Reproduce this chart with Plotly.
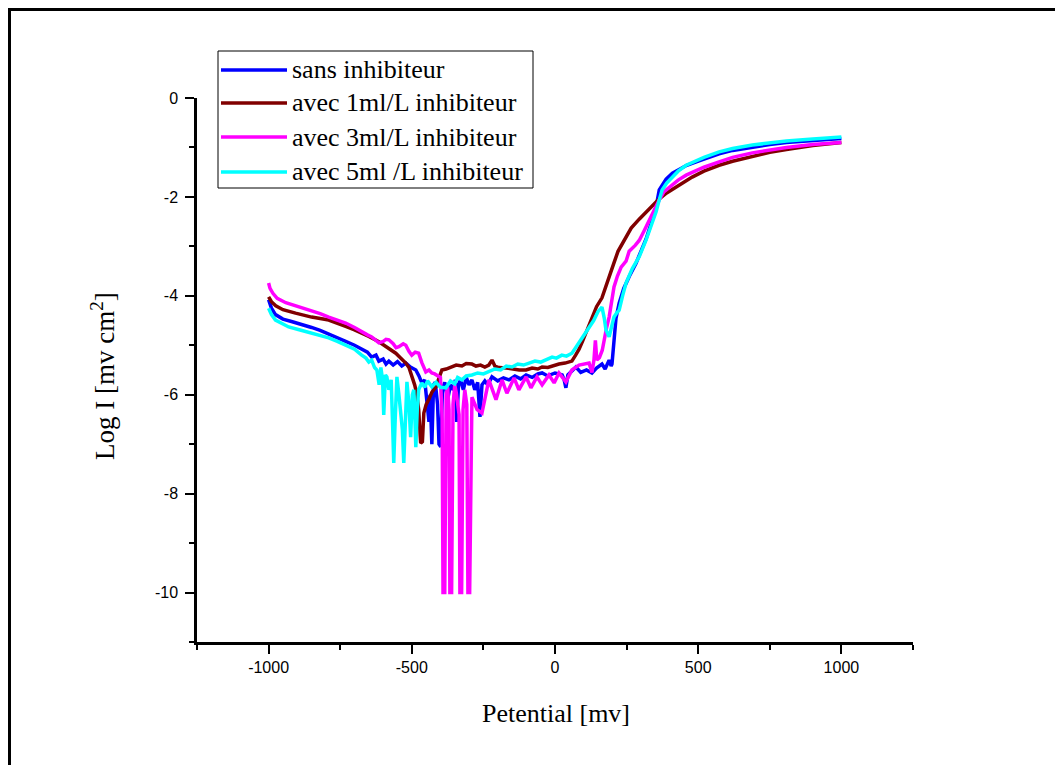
import plotly.graph_objects as go

# Polarisation curves: potential (mV) vs log current
E_sans = [-1000, -990, -976, -950, -920, -880, -850, -820, -790, -760, -731, -700, -675, -655, -640,
          -625, -615, -600, -590, -580, -565, -550, -535, -521, -505, -486, -475, -465, -455, -448,
          -440, -436, -430, -424, -418, -410, -405, -399, -393, -385, -375, -365, -355, -348, -343,
          -337, -330, -320, -310, -300, -290, -280, -270, -262, -255, -245, -235, -220, -200, -180,
          -161, -140, -120, -101, -80, -60, -45, -25, 0, 14, 25, 32, 38, 45, 60, 73, 90, 110, 129,
          145, 164, 175, 189, 196, 199, 205, 213, 224, 240, 260, 283, 300, 318, 335, 353, 364, 375,
          388, 410, 434, 460, 503, 540, 573, 620, 689, 750, 808, 900, 1000]
L_sans = [-4.08, -4.25, -4.38, -4.47, -4.52, -4.58, -4.64, -4.70, -4.77, -4.84, -4.92, -5.00, -5.08,
          -5.14, -5.24, -5.20, -5.32, -5.28, -5.38, -5.32, -5.40, -5.33, -5.42, -5.36, -5.44, -5.50,
          -5.62, -5.76, -5.70, -6.10, -6.55, -6.00, -7.00, -5.80, -5.75, -6.20, -7.00, -7.05, -5.90,
          -5.75, -6.10, -5.80, -5.90, -5.70, -6.55, -5.80, -5.70, -5.90, -5.65, -5.80, -5.70, -5.90,
          -5.75, -6.45, -5.80, -5.72, -5.80, -5.64, -5.72, -5.66, -5.70, -5.62, -5.68, -5.60, -5.65,
          -5.58, -5.56, -5.62, -5.56, -5.58, -5.60, -5.70, -5.86, -5.60, -5.52, -5.44, -5.55, -5.50,
          -5.56, -5.46, -5.38, -5.48, -5.30, -5.42, -5.38, -4.90, -4.45, -4.15, -3.85, -3.60, -3.34,
          -3.10, -2.85, -2.55, -2.20, -1.86, -1.75, -1.64, -1.52, -1.44, -1.36, -1.27, -1.20, -1.13,
          -1.06, -0.99, -0.94, -0.90, -0.86, -0.82]

E_1ml = [-1000, -990, -975, -950, -906, -850, -790, -760, -731, -700, -675, -650, -615, -590, -570,
         -556, -540, -521, -510, -500, -490, -483, -476, -469, -463, -458, -450, -441, -430, -416,
         -405, -395, -380, -360, -345, -325, -310, -290, -276, -260, -245, -231, -220, -210, -196,
         -170, -150, -125, -101, -80, -60, -45, -25, -10, 14, 35, 59, 72, 84, 96, 108, 120, 129,
         145, 164, 178, 189, 205, 220, 234, 248, 266, 294, 320, 339, 353, 364, 390, 423, 458, 479,
         520, 573, 620, 689, 750, 808, 900, 1000]
L_1ml = [-4.02, -4.12, -4.20, -4.28, -4.35, -4.43, -4.49, -4.55, -4.62, -4.69, -4.75, -4.82, -4.93,
         -5.02, -5.10, -5.16, -5.25, -5.36, -5.45, -5.62, -5.80, -5.97, -6.30, -6.98, -6.95, -6.37,
         -6.20, -6.10, -5.95, -5.84, -5.65, -5.50, -5.48, -5.44, -5.40, -5.42, -5.37, -5.38, -5.42,
         -5.40, -5.44, -5.40, -5.30, -5.42, -5.45, -5.46, -5.48, -5.50, -5.50, -5.46, -5.48, -5.44,
         -5.45, -5.42, -5.38, -5.36, -5.32, -5.20, -5.08, -4.92, -4.75, -4.55, -4.43, -4.22, -4.04,
         -3.82, -3.62, -3.35, -3.10, -2.95, -2.81, -2.63, -2.45, -2.30, -2.20, -2.10, -2.04, -1.92,
         -1.80, -1.66, -1.60, -1.48, -1.36, -1.28, -1.18, -1.10, -1.04, -0.96, -0.90]

E_3ml = [-1000, -995, -985, -970, -940, -906, -880, -850, -820, -790, -760, -731, -700, -675, -655,
         -640, -625, -615, -600, -590, -580, -565, -555, -545, -530, -521, -510, -500, -488, -476,
         -465, -451, -440, -430, -420, -405, -400, -394, -391, -385, -380, -375, -370, -367, -361,
         -356, -350, -345, -335, -332, -326, -321, -315, -308, -304, -298, -293, -290, -272, -255,
         -231, -206, -185, -168, -143, -126, -101, -84, -63, -45, -21, -3, 14, 38, 59, 84, 119,
         129, 136, 141, 146, 155, 165, 171, 180, 189, 198, 206, 218, 231, 248, 259, 280, 294, 310,
         329, 345, 364, 380, 399, 430, 458, 479, 520, 573, 620, 689, 750, 808, 900, 1000]
L_3ml = [-3.74, -3.85, -3.95, -4.05, -4.14, -4.20, -4.25, -4.30, -4.36, -4.43, -4.49, -4.55, -4.64,
         -4.73, -4.79, -4.83, -4.90, -4.95, -4.92, -4.88, -4.89, -4.97, -5.05, -5.03, -4.97, -5.00,
         -5.12, -5.20, -5.14, -5.16, -5.35, -5.54, -5.50, -5.56, -5.58, -5.62, -5.65, -6.50, -10.0,
         -10.0, -6.00, -5.85, -6.30, -10.0, -10.0, -6.20, -5.80, -5.95, -6.40, -10.0, -10.0, -6.30,
         -5.90, -6.20, -10.0, -10.0, -6.60, -6.05, -6.30, -6.37, -5.70, -6.10, -5.70, -5.97, -5.66,
         -5.90, -5.64, -5.86, -5.64, -5.80, -5.60, -5.76, -5.56, -5.74, -5.50, -5.40, -5.36, -5.55,
         -5.30, -4.90, -5.30, -5.25, -5.10, -4.90, -4.65, -4.43, -4.10, -3.82, -3.60, -3.42, -3.30,
         -3.10, -2.98, -2.88, -2.70, -2.47, -2.25, -2.06, -1.90, -1.80, -1.66, -1.56, -1.50, -1.40,
         -1.29, -1.20, -1.11, -1.05, -1.00, -0.94, -0.90]

E_5ml = [-1000, -990, -976, -955, -930, -890, -850, -820, -790, -760, -731, -700, -675, -660, -650,
         -640, -630, -622, -614, -608, -602, -598, -592, -587, -580, -572, -567, -563, -558, -552,
         -545, -538, -533, -528, -522, -517, -510, -504, -498, -493, -489, -486, -481, -476, -465,
         -455, -445, -430, -415, -400, -381, -365, -350, -340, -325, -310, -290, -270, -250, -231,
         -210, -190, -170, -150, -130, -110, -91, -70, -50, -31, -10, 5, 24, 40, 59, 72, 84, 100,
         119, 135, 150, 164, 172, 178, 189, 197, 206, 215, 224, 236, 248, 270, 294, 318, 339, 353,
         364, 374, 390, 409, 430, 458, 479, 520, 573, 620, 689, 750, 808, 900, 1000]
L_5ml = [-4.25, -4.38, -4.49, -4.56, -4.63, -4.69, -4.75, -4.80, -4.85, -4.92, -5.00, -5.08, -5.20,
         -5.26, -5.34, -5.30, -5.45, -5.50, -5.80, -5.45, -5.70, -6.41, -5.60, -5.64, -5.90, -5.70,
         -6.60, -7.38, -6.50, -5.64, -6.00, -6.37, -6.70, -7.38, -6.20, -5.74, -6.20, -6.86, -6.00,
         -5.90, -6.50, -7.06, -6.30, -5.90, -5.76, -5.85, -5.72, -5.84, -5.75, -5.85, -5.86, -5.72,
         -5.78, -5.65, -5.70, -5.62, -5.60, -5.56, -5.58, -5.54, -5.48, -5.50, -5.42, -5.44, -5.38,
         -5.40, -5.36, -5.32, -5.34, -5.30, -5.24, -5.26, -5.20, -5.22, -5.16, -5.05, -4.95, -4.80,
         -4.63, -4.50, -4.32, -4.23, -4.45, -4.69, -4.83, -4.60, -4.43, -4.35, -4.29, -4.00, -3.74,
         -3.45, -3.21, -2.87, -2.53, -2.30, -2.06, -1.86, -1.72, -1.60, -1.48, -1.36, -1.30, -1.20,
         -1.09, -1.02, -0.95, -0.90, -0.87, -0.83, -0.79]

series_names = ["sans inhibiteur", "avec 1ml/L inhibiteur", "avec 3ml/L inhibiteur",
                "avec 5ml /L inhibiteur"]
series_colors = ["#0000FF", "#800000", "#FF00FF", "#00FFFF"]
series_data = [(E_sans, L_sans), (E_1ml, L_1ml), (E_3ml, L_3ml), (E_5ml, L_5ml)]

# Tick labels (plain hyphen minus)
x_tickvals = [-1000, -500, 0, 500, 1000]
x_ticktext = ["-1000", "-500", "0", "500", "1000"]
y_tickvals = [0, -2, -4, -6, -8, -10]
y_ticktext = ["0", "-2", "-4", "-6", "-8", "-10"]

# Page geometry (pixels)
W_PAGE, H_PAGE = 1055, 765
PLOT_L, PLOT_R, PLOT_T, PLOT_B = 197, 913, 98, 642
PW, PH = PLOT_R - PLOT_L, PLOT_B - PLOT_T


def px_x(p):
    return (p - PLOT_L) / PW


def px_y(p):
    return (PLOT_B - p) / PH


fig = go.Figure()
for (xs, ys), name, color in zip(series_data, series_names, series_colors):
    fig.add_trace(go.Scatter(x=xs, y=ys, mode="lines", name=name, showlegend=False,
                             line=dict(color=color, width=3.5)))

serif = "Liberation Serif, Times New Roman, serif"
sans = "Liberation Sans, Arial, sans-serif"

shapes = []
annotations = []

# Outer frame (left and top edges)
shapes.append(dict(type="line", xref="paper", yref="paper", x0=px_x(9.5), x1=px_x(9.5),
                   y0=px_y(H_PAGE + 5), y1=px_y(8), line=dict(color="black", width=3)))
shapes.append(dict(type="line", xref="paper", yref="paper", x0=px_x(8), x1=px_x(W_PAGE + 5),
                   y0=px_y(9.5), y1=px_y(9.5), line=dict(color="black", width=3)))

# Legend box with line samples
shapes.append(dict(type="rect", xref="paper", yref="paper", x0=px_x(218), x1=px_x(533),
                   y0=px_y(188), y1=px_y(51), line=dict(color="black", width=1),
                   fillcolor="white", layer="above"))
legend_rows = [70, 103, 137, 172]
for row, name, color in zip(legend_rows, series_names, series_colors):
    shapes.append(dict(type="line", xref="paper", yref="paper", x0=px_x(221), x1=px_x(287),
                       y0=px_y(row), y1=px_y(row), line=dict(color=color, width=3.5),
                       layer="above"))
    annotations.append(dict(xref="paper", yref="paper", x=px_x(290), y=px_y(row), text=name,
                            showarrow=False, xanchor="left", yanchor="middle",
                            font=dict(family=serif, size=26, color="black")))

# Axis titles
annotations.append(dict(xref="paper", yref="paper", x=px_x(556), y=px_y(713),
                        text="Petential [mv]", showarrow=False, xanchor="center",
                        yanchor="middle", font=dict(family=serif, size=26, color="black")))
annotations.append(dict(xref="paper", yref="paper", x=px_x(103), y=px_y(376),
                        text="Log I [mv cm<sup>2</sup>]", showarrow=False, textangle=-90,
                        xanchor="center", yanchor="middle",
                        font=dict(family=serif, size=27, color="black")))

fig.update_layout(
    width=W_PAGE, height=H_PAGE,
    margin=dict(l=PLOT_L, r=W_PAGE - PLOT_R, t=PLOT_T, b=H_PAGE - PLOT_B, pad=0),
    paper_bgcolor="white", plot_bgcolor="white",
    showlegend=False,
    shapes=shapes, annotations=annotations,
    xaxis=dict(range=[-1250, 1250], tickvals=x_tickvals, ticktext=x_ticktext,
               ticks="outside", ticklen=9, tickwidth=2, tickcolor="black",
               showline=True, linecolor="black", linewidth=2.5,
               showgrid=False, zeroline=False,
               tickfont=dict(family=sans, size=16, color="black"),
               minor=dict(ticks="outside", ticklen=5, tickwidth=2, tickcolor="black",
                          dtick=250, tick0=0)),
    yaxis=dict(range=[-11, 0], tickvals=y_tickvals, ticktext=y_ticktext,
               ticks="outside", ticklen=9, tickwidth=2, tickcolor="black",
               showline=True, linecolor="black", linewidth=2.5,
               showgrid=False, zeroline=False, ticklabelstandoff=4,
               tickfont=dict(family=sans, size=16, color="black"),
               minor=dict(ticks="outside", ticklen=5, tickwidth=2, tickcolor="black",
                          dtick=1, tick0=0)),
)

fig.write_html("out.html")
